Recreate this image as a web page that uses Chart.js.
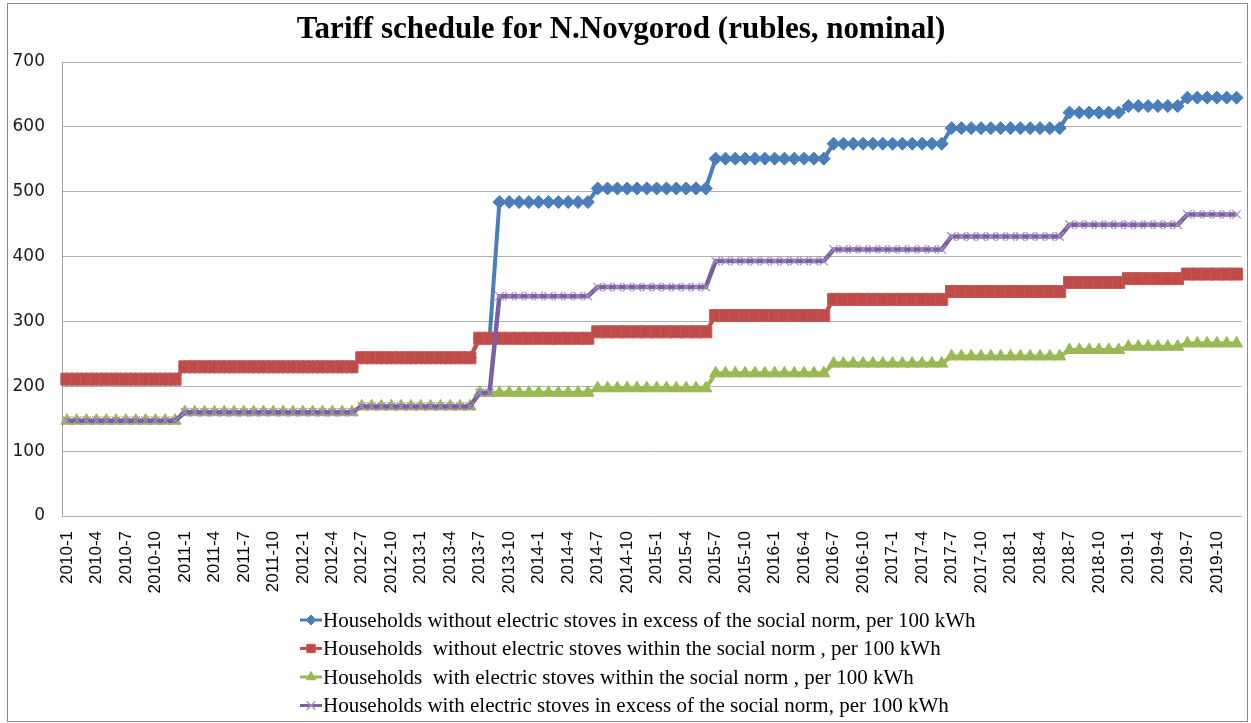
<!DOCTYPE html>
<html>
<head>
<meta charset="utf-8">
<title>Tariff schedule for N.Novgorod</title>
<script src="https://cdn.jsdelivr.net/npm/chart.js@4.4.1/dist/chart.umd.min.js"></script>
<style>
  html, body { margin: 0; padding: 0; background: #fff; }
  #wrap { position: relative; width: 1251px; height: 723px; }
  #frame { position: absolute; left: 7px; top: 3px; width: 1241px; height: 719px;
           border: 1px solid #8c8c8c; box-sizing: border-box; pointer-events: none; }
</style>
</head>
<body>
<div id="wrap">
  <canvas id="tariffChart" width="1251" height="723"></canvas>
  <div id="frame"></div>
</div>
<script>
// months 2010-1 ... 2019-12
const years = [2010, 2011, 2012, 2013, 2014, 2015, 2016, 2017, 2018, 2019];
const months = [];
years.forEach(function (y) {
  for (let m = 1; m <= 12; m++) months.push(y + '-' + m);
});

const yTicks = [0, 100, 200, 300, 400, 500, 600, 700];

// rubles per 100 kWh, one row per year (Jan..Dec)
const noStovesExcess = [
  211, 211, 211, 211, 211, 211, 211, 211, 211, 211, 211, 211,
  230, 230, 230, 230, 230, 230, 230, 230, 230, 230, 230, 230,
  230, 230, 230, 230, 230, 230, 244, 244, 244, 244, 244, 244,
  244, 244, 244, 244, 244, 244, 274, 274, 484, 484, 484, 484,
  484, 484, 484, 484, 484, 484, 505, 505, 505, 505, 505, 505,
  505, 505, 505, 505, 505, 505, 551, 551, 551, 551, 551, 551,
  551, 551, 551, 551, 551, 551, 574, 574, 574, 574, 574, 574,
  574, 574, 574, 574, 574, 574, 598, 598, 598, 598, 598, 598,
  598, 598, 598, 598, 598, 598, 622, 622, 622, 622, 622, 622,
  632, 632, 632, 632, 632, 632, 645, 645, 645, 645, 645, 645
];

const noStovesNorm = [
  211, 211, 211, 211, 211, 211, 211, 211, 211, 211, 211, 211,
  230, 230, 230, 230, 230, 230, 230, 230, 230, 230, 230, 230,
  230, 230, 230, 230, 230, 230, 244, 244, 244, 244, 244, 244,
  244, 244, 244, 244, 244, 244, 274, 274, 274, 274, 274, 274,
  274, 274, 274, 274, 274, 274, 284, 284, 284, 284, 284, 284,
  284, 284, 284, 284, 284, 284, 309, 309, 309, 309, 309, 309,
  309, 309, 309, 309, 309, 309, 334, 334, 334, 334, 334, 334,
  334, 334, 334, 334, 334, 334, 346, 346, 346, 346, 346, 346,
  346, 346, 346, 346, 346, 346, 360, 360, 360, 360, 360, 360,
  366, 366, 366, 366, 366, 366, 373, 373, 373, 373, 373, 373
];

const stovesNorm = [
  147, 147, 147, 147, 147, 147, 147, 147, 147, 147, 147, 147,
  160, 160, 160, 160, 160, 160, 160, 160, 160, 160, 160, 160,
  160, 160, 160, 160, 160, 160, 169, 169, 169, 169, 169, 169,
  169, 169, 169, 169, 169, 169, 190, 190, 190, 190, 190, 190,
  190, 190, 190, 190, 190, 190, 197, 197, 197, 197, 197, 197,
  197, 197, 197, 197, 197, 197, 220, 220, 220, 220, 220, 220,
  220, 220, 220, 220, 220, 220, 235, 235, 235, 235, 235, 235,
  235, 235, 235, 235, 235, 235, 246, 246, 246, 246, 246, 246,
  246, 246, 246, 246, 246, 246, 256, 256, 256, 256, 256, 256,
  261, 261, 261, 261, 261, 261, 266, 266, 266, 266, 266, 266
];

const stovesExcess = [
  147, 147, 147, 147, 147, 147, 147, 147, 147, 147, 147, 147,
  160, 160, 160, 160, 160, 160, 160, 160, 160, 160, 160, 160,
  160, 160, 160, 160, 160, 160, 169, 169, 169, 169, 169, 169,
  169, 169, 169, 169, 169, 169, 190, 190, 339, 339, 339, 339,
  339, 339, 339, 339, 339, 339, 353, 353, 353, 353, 353, 353,
  353, 353, 353, 353, 353, 353, 393, 393, 393, 393, 393, 393,
  393, 393, 393, 393, 393, 393, 411, 411, 411, 411, 411, 411,
  411, 411, 411, 411, 411, 411, 431, 431, 431, 431, 431, 431,
  431, 431, 431, 431, 431, 431, 449, 449, 449, 449, 449, 449,
  449, 449, 449, 449, 449, 449, 465, 465, 465, 465, 465, 465
];

const seriesNames = [
  'Households without electric stoves in excess of the social norm, per 100 kWh',
  'Households  without electric stoves within the social norm , per 100 kWh',
  'Households  with electric stoves within the social norm , per 100 kWh',
  'Households with electric stoves in excess of the social norm, per 100 kWh'
];

// legend drawn by hand so rows stay left aligned like the original
const legendRows = {
  id: 'legendRows',
  afterDraw(chart) {
    const ctx = chart.ctx;
    ctx.save();
    chart.data.datasets.forEach(function (ds, i) {
      const y = 620 + i * 28.5;
      const x0 = 300;
      ctx.strokeStyle = ds.borderColor;
      ctx.lineWidth = 3;
      ctx.beginPath();
      ctx.moveTo(x0, y);
      ctx.lineTo(x0 + 22, y);
      ctx.stroke();
      ctx.fillStyle = ds.pointBackgroundColor;
      ctx.strokeStyle = ds.pointBorderColor;
      ctx.lineWidth = ds.pointBorderWidth;
      Chart.helpers.drawPoint(ctx, {
        pointStyle: ds.pointStyle,
        radius: ds.legendRadius,
        rotation: 0,
        borderWidth: ds.pointBorderWidth
      }, x0 + 11, y);
      ctx.fillStyle = '#000';
      ctx.font = '21px "Liberation Serif"';
      ctx.textAlign = 'left';
      ctx.textBaseline = 'middle';
      ctx.fillText(ds.label, x0 + 23, y + 1);
    });
    ctx.restore();
  }
};

const ctx = document.getElementById('tariffChart').getContext('2d');
new Chart(ctx, {
  type: 'line',
  data: {
    labels: months,
    datasets: [{
      label: seriesNames[0],
      data: noStovesExcess,
      order: 4,
      borderColor: '#4A7EBB',
      borderWidth: 4,
      pointStyle: 'rectRot',
      pointRadius: 6.5,
      legendRadius: 5,
      pointBackgroundColor: '#4A7EBB',
      pointBorderColor: '#4A7EBB',
      pointBorderWidth: 1
    }, {
      label: seriesNames[1],
      data: noStovesNorm,
      order: 3,
      borderColor: '#BE4B48',
      borderWidth: 4,
      pointStyle: 'rect',
      pointRadius: 8.5,
      legendRadius: 6,
      pointBackgroundColor: '#BE4B48',
      pointBorderColor: '#C55A57',
      pointBorderWidth: 1
    }, {
      label: seriesNames[2],
      data: stovesNorm,
      order: 2,
      borderColor: '#98B954',
      borderWidth: 4,
      pointStyle: 'triangle',
      pointRadius: 7,
      legendRadius: 5.5,
      pointBackgroundColor: '#98B954',
      pointBorderColor: '#98B954',
      pointBorderWidth: 1
    }, {
      label: seriesNames[3],
      data: stovesExcess,
      order: 1,
      borderColor: '#7D5FA0',
      borderWidth: 4.5,
      pointStyle: 'crossRot',
      pointRadius: 6,
      legendRadius: 6,
      pointBackgroundColor: '#A28DC4',
      pointBorderColor: '#A28DC4',
      pointBorderWidth: 1.2
    }]
  },
  options: {
    responsive: false,
    animation: false,
    layout: { padding: { left: 0, right: 9, top: 0, bottom: 0 } },
    plugins: {
      legend: { display: false },
      tooltip: { enabled: false },
      title: {
        display: true,
        text: 'Tariff schedule for N.Novgorod (rubles, nominal)',
        color: '#000',
        font: { family: '"Liberation Serif", serif', size: 31, weight: 'bold', lineHeight: 1.2 },
        padding: { top: 11.4, bottom: 13.4 }
      }
    },
    scales: {
      x: {
        offset: true,
        grid: { display: false, drawTicks: false },
        border: { display: false },
        ticks: {
          autoSkip: false,
          minRotation: 90,
          maxRotation: 90,
          padding: 15,
          color: '#000',
          font: { family: '"Liberation Sans", Arial, sans-serif', size: 17 },
          callback: function (value, index) {
            return index % 3 === 0 ? this.getLabelForValue(value) : '';
          }
        },
        afterFit: function (scale) {
          scale.height = 207;
          scale.paddingLeft = 0;
          scale.paddingRight = 0;
        }
      },
      y: {
        min: yTicks[0],
        max: yTicks[yTicks.length - 1],
        grid: { color: '#b0b0b0', lineWidth: 1, drawTicks: false },
        border: { display: true, color: '#a0a0a0', width: 1 },
        afterBuildTicks: function (scale) {
          scale.ticks = yTicks.map(function (v) { return { value: v }; });
        },
        ticks: {
          padding: 17,
          color: '#1a1a1a',
          font: { family: '"DejaVu Sans", sans-serif', size: 17 }
        },
        afterFit: function (scale) { scale.width = 62; }
      }
    }
  },
  plugins: [legendRows]
});
</script>
</body>
</html>
